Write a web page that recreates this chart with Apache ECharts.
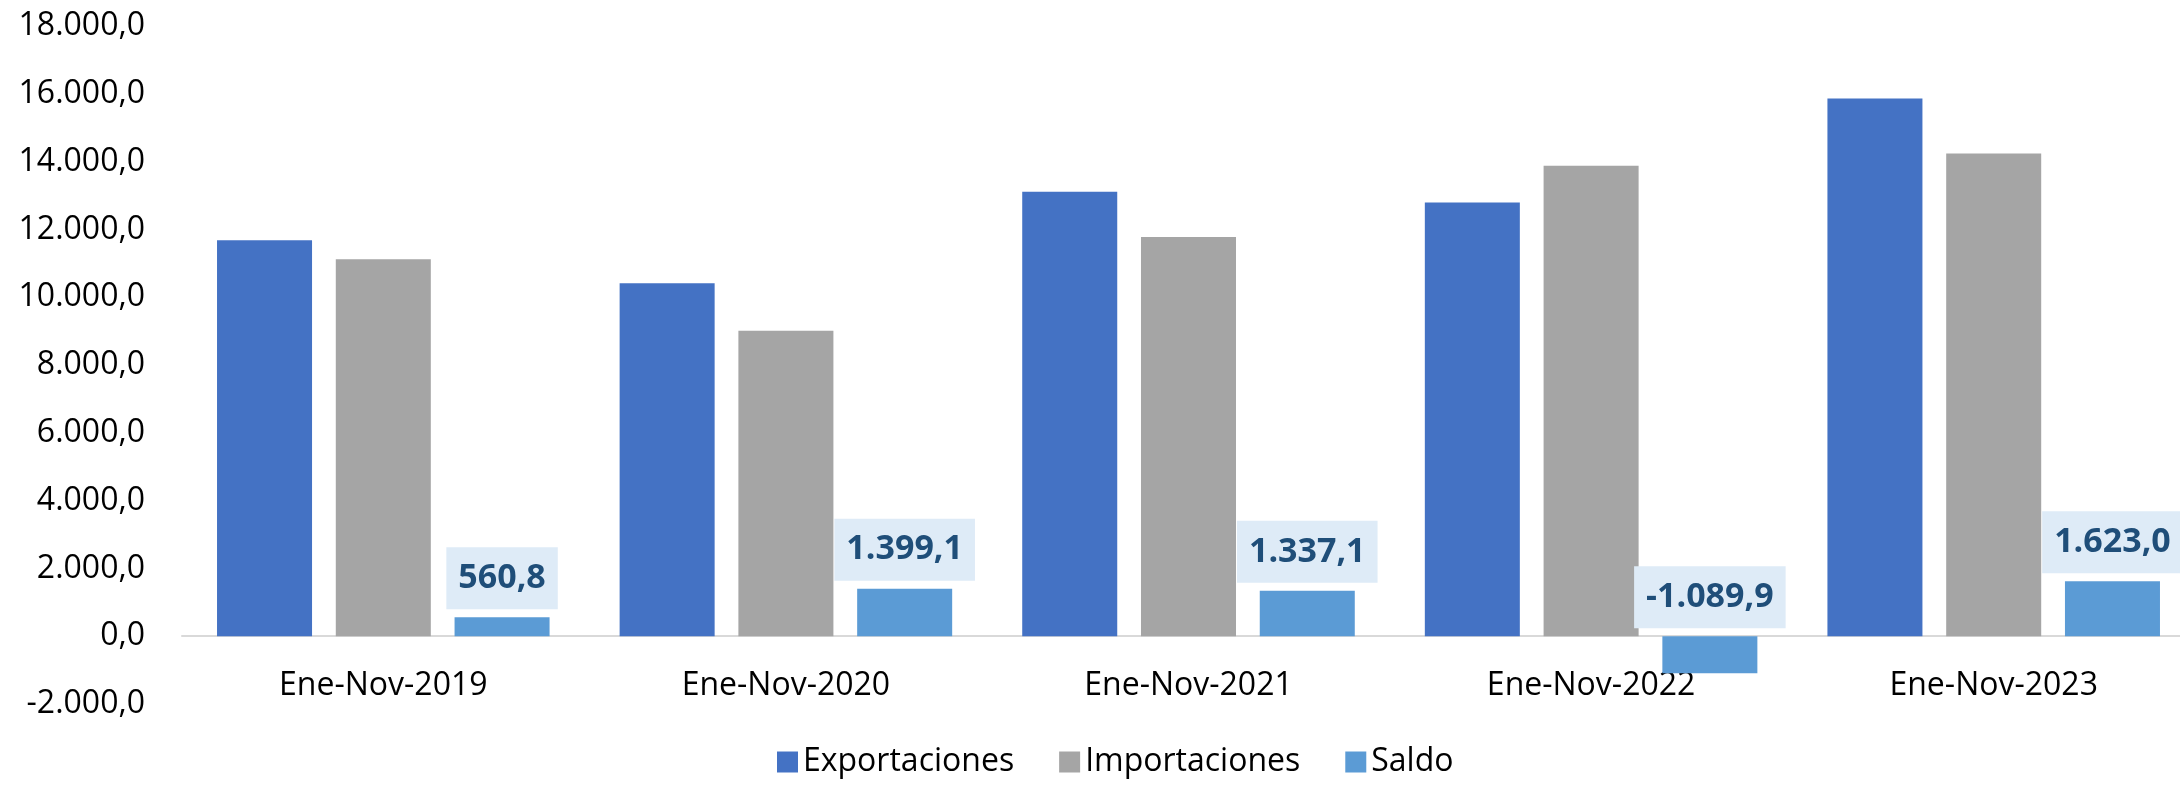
<!DOCTYPE html>
<html>
<head>
<meta charset="utf-8">
<script src="https://cdn.jsdelivr.net/npm/echarts@6/dist/echarts.min.js"></script>
<style>html,body{margin:0;padding:0;background:#fff;overflow:hidden;width:2180px;height:787px;}#c{width:2195px;height:787px;}</style>
</head>
<body>
<div id="c"></div>
<script>
const categories = ['Ene-Nov-2019', 'Ene-Nov-2020', 'Ene-Nov-2021', 'Ene-Nov-2022', 'Ene-Nov-2023'];
const seriesNames = ['Exportaciones', 'Importaciones', 'Saldo'];
const exportaciones = [11680, 10410, 13110, 12790, 15860];
const importaciones = [11119, 9011, 11773, 13880, 14237];
const saldo = [560.8, 1399.1, 1337.1, -1089.9, 1623.0];
const yTicks = { min: -2000, max: 18000, interval: 2000 };

function fmt(v) {
  const neg = v < 0;
  const s = Math.abs(v).toFixed(1);
  const [i, d] = s.split('.');
  const ii = i.replace(/\B(?=(\d{3})+(?!\d))/g, '.');
  return (neg ? '-' : '') + ii + ',' + d;
}

const FONT = 'Open Sans';
const chart = echarts.init(document.getElementById('c'));
chart.setOption({
  animation: false,
  backgroundColor: '#ffffff',
  textStyle: { fontFamily: FONT },
  grid: { left: 182, right: 0, top: 26, bottom: 83, containLabel: false },
  legend: {
    data: seriesNames,
    bottom: 4,
    left: 772,
    icon: 'rect',
    itemWidth: 21,
    itemHeight: 21,
    itemGap: 45,
    textStyle: { fontSize: 32, color: '#000', fontFamily: FONT }
  },
  xAxis: {
    type: 'category',
    data: categories,
    axisLine: { show: true, lineStyle: { color: '#D9D9D9', width: 2 } },
    axisTick: { show: false },
    axisLabel: { fontSize: 32, color: '#000', margin: -34, fontFamily: FONT },
    splitLine: { show: false }
  },
  yAxis: {
    type: 'value',
    min: yTicks.min,
    max: yTicks.max,
    interval: yTicks.interval,
    axisLine: { show: false },
    axisTick: { show: false },
    splitLine: { show: false },
    axisLabel: { fontSize: 32, color: '#000', margin: 37, fontFamily: FONT, formatter: v => fmt(v) }
  },
  series: [
    {
      name: seriesNames[0], type: 'bar', data: exportaciones,
      barWidth: '23.6%', barGap: '25%',
      itemStyle: { color: '#4472C4' }
    },
    {
      name: seriesNames[1], type: 'bar', data: importaciones,
      barWidth: '23.6%', barGap: '25%',
      itemStyle: { color: '#A5A5A5' }
    },
    {
      name: seriesNames[2], type: 'bar', data: saldo,
      barWidth: '23.6%', barGap: '25%',
      itemStyle: { color: '#5B9BD5' },
      label: {
        show: true,
        position: 'top',
        distance: 8,
        formatter: p => fmt(p.value),
        fontSize: 34,
        fontWeight: 'bold',
        color: '#1F4E79',
        fontFamily: FONT,
        backgroundColor: '#DEEBF7',
        padding: [14, 12]
      }
    }
  ]
});
</script>
</body>
</html>
